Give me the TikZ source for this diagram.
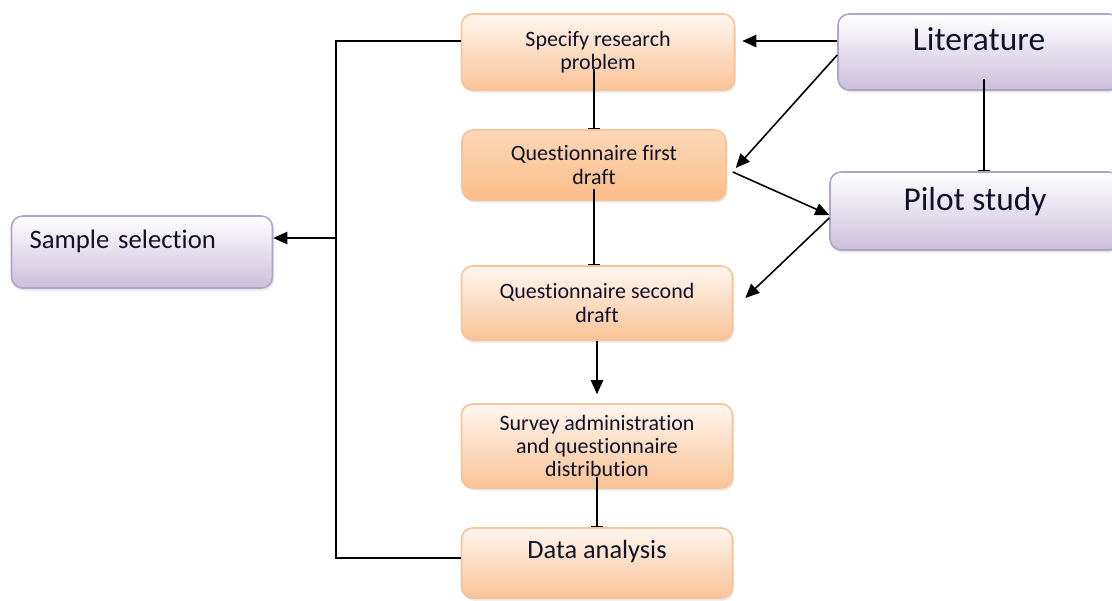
\documentclass[tikz,border=0pt]{standalone}
\usepackage{fontspec}
\setmainfont{Carlito}[Ligatures=NoCommon]
\usetikzlibrary{arrows.meta,shadows}

\definecolor{orline}{HTML}{F7C49A}
\definecolor{ortop}{HTML}{FFF6EF}
\definecolor{orbot}{HTML}{FAC396}
\definecolor{puline}{HTML}{B1A3CC}
\definecolor{putop}{HTML}{FFFFFF}
\definecolor{pubot}{HTML}{CBBFDB}
\definecolor{ink}{HTML}{10122A}

\begin{document}
\begin{tikzpicture}[x=0.02cm,y=-0.02cm,
  box/.style={rectangle,rounded corners=0.22cm,line width=0.9pt,align=center,
    text=ink,inner sep=2pt,
    drop shadow={opacity=0.2,shadow xshift=0.03cm,shadow yshift=-0.05cm}},
  orbox/.style={box,draw=orline,top color=ortop,bottom color=orbot,
    font=\fontsize{12.5}{13.2}\selectfont},
  pubox/.style={box,draw=puline,top color=putop,bottom color=pubot},
  arr/.style={-{Triangle[width=7pt,length=8pt]},line width=0.9pt},
  tee/.style={-{Bar[width=7pt,line width=0.5pt]},line width=0.9pt}]

\useasboundingbox (0,0) rectangle (1112,600);

% Colonne centrale
\node[orbox,minimum width=5.46cm,minimum height=1.52cm] (spec) at (598,52)
  {Specify research\\problem};
\node[orbox,minimum width=5.28cm,minimum height=1.40cm,top color=ortop!40!orbot,
  bottom color=orbot!90!orange] (first) at (594,165)
  {Questionnaire first\\draft};
\node[orbox,minimum width=5.42cm,minimum height=1.48cm] (second) at (597,303)
  {Questionnaire second\\draft};
\node[orbox,minimum width=5.42cm,minimum height=1.68cm] (survey) at (597,446)
  {Survey administration\\and questionnaire\\distribution};
\node[orbox,minimum width=5.42cm,minimum height=1.40cm,
  font=\fontsize{15}{17}\selectfont,text height=8pt,text depth=13.6pt] (data) at (597,563)
  {Data analysis};

% Colonne droite
\node[pubox,minimum width=5.64cm,minimum height=1.52cm,
  font=\fontsize{19}{21}\selectfont,text height=10pt,text depth=11.6pt] (lit) at (979,52)
  {Literature};
\node[pubox,minimum width=5.80cm,minimum height=1.56cm,
  font=\fontsize{19}{21}\selectfont,text height=10pt,text depth=10.4pt] (pilot) at (975,211)
  {Pilot study};

% Colonne gauche
\node[pubox,minimum width=5.22cm,minimum height=1.44cm,
  font=\fontsize{15.2}{17}\selectfont,text width=4.5cm,align=left,inner xsep=0.36cm,
  text height=8pt,text depth=12.4pt] (sample) at (142,252)
  {Sample selection};

% Liens verticaux
\draw[tee] ([yshift=0.44cm]spec.south -| first.north) -- (first.north);
\draw[tee] ([yshift=0.24cm]first.south) -- (first.south |- second.north);
\draw[arr] (second.south) -- ([yshift=0.18cm]second.south |- survey.north);
\draw[tee] ([yshift=0.24cm]survey.south) -- (survey.south |- data.north);
\draw[tee] ([xshift=0.1cm,yshift=0.24cm]lit.south) -- ([xshift=0.1cm]lit.south |- pilot.north);

% Liens obliques
\draw[arr] ([yshift=0.22cm]lit.west) -- ([xshift=0.14cm,yshift=0.22cm]spec.east);
\draw[arr] ([yshift=-0.06cm]lit.west) -- ([xshift=0.18cm,yshift=-0.06cm]first.east);
\draw[arr] ([xshift=0.12cm,yshift=-0.14cm]first.east) -- ([yshift=-0.08cm]pilot.west);
\draw[arr] ([yshift=-0.14cm]pilot.west) -- ([xshift=0.24cm,yshift=0.1cm]second.east);

% Boucle gauche
\coordinate (split) at (336,238);
\draw[line width=0.9pt] ([yshift=0.22cm]spec.west) -| (split) |- ([yshift=0.1cm]data.west);
\draw[arr] (split) -- (split -| sample.east);

\end{tikzpicture}
\end{document}
